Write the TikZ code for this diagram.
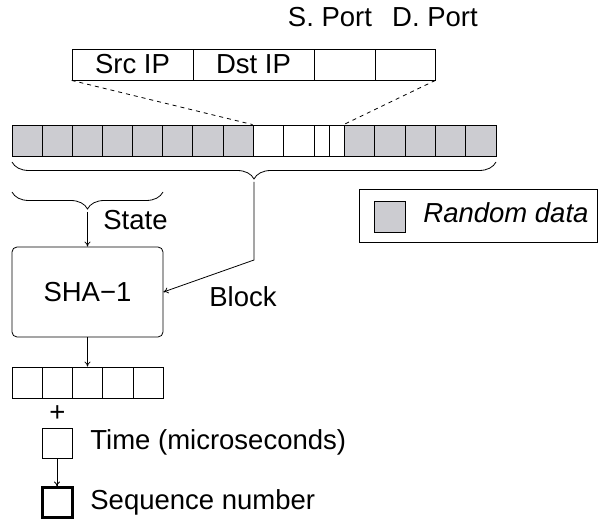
\documentclass[tikz,border=0pt]{standalone}
\usepackage{fontspec}
\setmainfont{Liberation Sans}
\usetikzlibrary{decorations.pathreplacing,arrows.meta}
\definecolor{rnd}{RGB}{204,204,209}
\begin{document}
\begin{tikzpicture}[x=1pt,y=-1pt, line width=0.8pt,
  every node/.style={font=\fontsize{27.5}{32}\selectfont, inner sep=0pt},
  cell/.style={draw, minimum height=31pt},
  lbl/.style={anchor=base west},
  arr/.style={-{To[length=5pt,width=6pt]}},
  brc/.style={decorate, decoration={brace, amplitude=17pt}}]

\useasboundingbox (0,0) rectangle (598,521);

% header fields of the packet
\node[cell, minimum width=121pt] (srcip) at (132.5,64.5) {Src IP};
\node[cell, minimum width=121pt] (dstip) at (253.5,64.5) {Dst IP};
\node[cell, minimum width=61pt]  (sport) at (344.5,64.5) {};
\node[cell, minimum width=60pt]  (dport) at (405,64.5) {};
\node[anchor=base] (sportlbl) at (330,27) {S. Port};
\node[anchor=base] (dportlbl) at (435,27) {D. Port};

% input block: random data around the connection identifiers
\foreach \a/\b/\f [count=\i] in {12/42.1/rnd,42.1/72.2/rnd,72.2/102.4/rnd,102.4/132.5/rnd,
    132.5/162.6/rnd,162.6/192.8/rnd,192.8/222.9/rnd,222.9/253/rnd,
    253/283.5/white,283.5/314/white,314/329/white,329/344/white,
    344/374.5/rnd,374.5/405/rnd,405/435/rnd,435/465.5/rnd,465.5/496/rnd}
  \node[cell, fill=\f, minimum width={\b-\a}] (c\i) at ({(\a+\b)/2},140.5) {};

\draw[dash pattern=on 4pt off 4pt] (srcip.south west) -- (c9.north west);
\draw[dash pattern=on 4pt off 4pt] (dport.south east) -- (c13.north west);

% braces
\coordinate (bigR) at (496,162);
\coordinate (bigL) at (12,162);
\draw[brc] (bigR) -- (bigL);
\coordinate (bigtip) at (254,182);
\coordinate (bend) at (254,260);

\coordinate (stR) at (163,192);
\coordinate (stL) at (12,192);
\draw[brc] (stR) -- (stL);
\coordinate (sttip) at (87.5,212);

% hash function
\node[draw, rounded corners=5pt, minimum width=151pt, minimum height=90pt] (sha) at (87.5,292) {SHA−1};
\draw[arr] (sttip) -- (sha.north);
\draw[arr] (bigtip) -- (bend) -- (sha.east);
\node[lbl] (state) at (103,230) {State};
\node[lbl] (block) at (209,307) {Block};

% hash output
\foreach \a/\b [count=\i] in {12/42,42/72,72/102.5,102.5/133,133/163}
  \node[cell, minimum width={\b-\a}] (h\i) at ({(\a+\b)/2},382.5) {};
\draw[arr] (sha.south) -- (sha.south |- h3.north);

\node (plus) at (57.5,414) {+};
\node[cell, minimum width=30pt, minimum height=30pt] (time) at (57,443) {};
\node[lbl] (timelbl) at (90,450) {Time (microseconds)};
\node[cell, line width=3pt, minimum width=30pt, minimum height=30pt] (seq) at (57,503) {};
\node[lbl] (seqlbl) at (90,510) {Sequence number};
\draw[arr] (time.south) -- (seq.north);

% legend
\node[draw, minimum width=238pt, minimum height=53pt] (legend) at (478,215.5) {};
\node[cell, fill=rnd, minimum width=31pt] (key) at (389.5,216.5) {};
\node[lbl] (keylbl) at (423,223) {\itshape Random data};
\end{tikzpicture}
\end{document}
